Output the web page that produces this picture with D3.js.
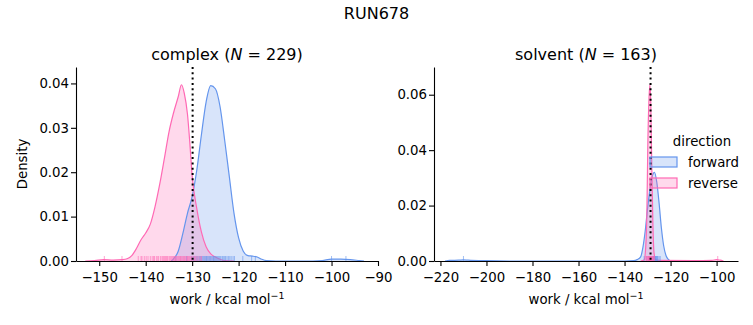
<!DOCTYPE html>
<html>
<head>
<meta charset="utf-8">
<script src="https://cdn.jsdelivr.net/npm/d3@7"></script>
<style>
  body { margin: 0; background: #fff; }
  svg text { font-family: "DejaVu Sans", sans-serif; fill: #000; }
</style>
</head>
<body>
<svg id="chart" width="753" height="325"></svg>
<script>
// density curves: [work, density]
var complexForward = [[-134.5, 0], [-134, 0.0005], [-133, 0.0022], [-132, 0.0062], [-131, 0.0108], [-130, 0.0145],
  [-129, 0.0205], [-128, 0.0285], [-127, 0.0358], [-126, 0.0395], [-125, 0.0388], [-124, 0.0348], [-123, 0.0272],
  [-122, 0.019], [-121, 0.0108], [-120, 0.0052], [-119, 0.0022], [-118, 0.0012], [-117, 0.0011], [-116, 0.0009],
  [-115, 0.0004], [-114, 0.0001], [-112, 0], [-104, 0], [-102, 0.0001], [-100, 0.0004], [-98, 0.0004], [-96, 0.0003],
  [-94, 0.0001], [-93, 0]];
var complexReverse = [[-153, 0], [-151, 0.0001], [-149, 0.0003], [-147, 0.0002], [-145, 0.0003], [-144, 0.0005],
  [-143, 0.0012], [-142, 0.0028], [-141, 0.0048], [-140, 0.0063], [-139, 0.0083], [-138, 0.0122], [-137, 0.0172],
  [-136, 0.023], [-135, 0.029], [-134, 0.0334], [-133, 0.037], [-132.3, 0.0397], [-131.7, 0.0378], [-131, 0.033],
  [-130.5, 0.0266], [-130, 0.0192], [-129, 0.0118], [-128, 0.0065], [-127, 0.0032], [-126, 0.0016], [-125, 0.0009],
  [-124, 0.0004], [-123, 0.0001], [-121, 0]];
var solventForward = [[-218, 0], [-216, 0.0002], [-212, 0.0003], [-210, 0.0004], [-208, 0.0003], [-200, 0.0001],
  [-190, 0], [-140, 0], [-136, 0.0001], [-134.5, 0.0005], [-133, 0.0015], [-132, 0.005], [-131, 0.011], [-130, 0.019],
  [-129, 0.0255], [-128, 0.0305], [-127, 0.032], [-126, 0.0285], [-125, 0.021], [-124, 0.012], [-123, 0.0055],
  [-122, 0.002], [-121, 0.0006], [-120, 0.0001], [-118, 0]];
var solventReverse = [[-133, 0], [-131.5, 0.0004], [-130.8, 0.005], [-130.3, 0.017], [-129.9, 0.041], [-129.4, 0.058],
  [-129.0, 0.0636], [-128.6, 0.057], [-128.2, 0.036], [-127.7, 0.014], [-127.2, 0.003], [-126.5, 0.0005],
  [-125, 0.0002], [-110, 0.0001], [-102, 0.0002], [-100, 0.0005], [-98.5, 0.0003], [-97, 0]];

// rug values (work samples)
var complexForwardRug = [-133.5, -131.2, -130.1, -129.7, -129.4, -129.1, -128.8, -128.5, -128.3, -128.1, -127.9,
  -127.7, -127.5, -127.3, -127.1, -126.9, -126.8, -126.6, -126.4, -126.2, -126.1, -125.9, -125.7, -125.5, -125.4,
  -125.2, -125.0, -124.8, -124.6, -124.4, -124.2, -124.0, -123.8, -123.5, -123.3, -123.0, -122.8, -122.5, -122.2,
  -121.9, -121.6, -121.2, -120.9, -119.1, -117.2, -116.4, -100.0, -96.9];
var complexReverseRug = [-148.9, -145.1, -141.6, -141.0, -140.8, -140.3, -139.9, -139.5, -139.0, -138.6, -138.3,
  -138.1, -137.7, -137.4, -137.2, -136.8, -136.5, -136.3, -136.1, -135.9, -135.7, -135.5, -135.3, -135.0, -134.8,
  -134.6, -134.4, -134.2, -134.0, -133.8, -133.6, -133.5, -133.3, -133.1, -132.9, -132.7, -132.5, -132.4, -132.2,
  -132.0, -131.8, -131.7, -131.5, -131.3, -131.1, -131.0, -130.8, -130.6, -130.4, -130.2, -130.0, -129.8, -129.5,
  -129.3, -129.0, -128.7, -128.3, -128.0];
var solventForwardRug = [-210.0, -131.5, -130.4, -129.6, -129.0, -128.5, -128.0, -127.6, -127.4, -127.2, -127.0,
  -126.8, -126.6, -126.4, -126.2, -126.0, -125.7, -125.5, -125.0, -124.5];
var solventReverseRug = [-130.8, -130.5, -130.2, -130.0, -129.8, -129.6, -129.5, -129.3, -129.2, -129.1, -129.0,
  -128.9, -128.8, -128.6, -128.5, -128.3, -128.2, -128.0, -127.9, -127.7, -127.5, -127.3, -127.0, -99.5];

var panels = [
  { name: "complex", n: 229, fwd: complexForward, rev: complexReverse, fwdRug: complexForwardRug, revRug: complexReverseRug,
    xdom: [-155, -90], ydom: [0, 0.0437], xticks: [-150, -140, -130, -120, -110, -100, -90],
    yticks: [0, 0.01, 0.02, 0.03, 0.04], vline: -129.9, left: 76, right: 378, ylabel: true },
  { name: "solvent", n: 163, fwd: solventForward, rev: solventReverse, fwdRug: solventForwardRug, revRug: solventReverseRug,
    xdom: [-222.8, -90.7], ydom: [0, 0.07], xticks: [-220, -200, -180, -160, -140, -120, -100],
    yticks: [0, 0.02, 0.04, 0.06], vline: -128.7, left: 434, right: 738, ylabel: false }
];

var blue = "#6495ed", pink = "#ff69b4";
var plotTop = 67, plotBottom = 261;
var svg = d3.select("#chart");
var minus = function (s) { return s.replace("-", "\u2212"); };

svg.append("text").attr("x", 376.5).attr("y", 19).attr("text-anchor", "middle")
  .style("font-size", "16px").text("RUN678");

panels.forEach(function (p) {
  var x = d3.scaleLinear().domain(p.xdom).range([p.left, p.right]);
  var y = d3.scaleLinear().domain(p.ydom).range([plotBottom, plotTop]);
  var g = svg.append("g");

  var area = d3.area().x(function (d) { return x(d[0]); }).y0(y(0)).y1(function (d) { return y(d[1]); })
    .curve(d3.curveMonotoneX);
  var line = d3.line().x(function (d) { return x(d[0]); }).y(function (d) { return y(d[1]); })
    .curve(d3.curveMonotoneX);

  [[p.fwd, blue], [p.rev, pink]].forEach(function (s) {
    g.append("path").datum(s[0]).attr("d", area).attr("fill", s[1]).attr("fill-opacity", 0.25);
  });
  [[p.fwd, blue], [p.rev, pink]].forEach(function (s) {
    g.append("path").datum(s[0]).attr("d", line).attr("fill", "none").attr("stroke", s[1]).attr("stroke-width", 1.2);
  });

  // rug
  [[p.fwdRug, blue], [p.revRug, pink]].forEach(function (s) {
    g.selectAll(null).data(s[0]).enter().append("line")
      .attr("x1", function (d) { return x(d); }).attr("x2", function (d) { return x(d); })
      .attr("y1", plotBottom).attr("y2", plotBottom - 5)
      .attr("stroke", s[1]).attr("stroke-opacity", 0.6).attr("stroke-width", 1);
  });

  // dotted reference line
  g.append("line").attr("x1", x(p.vline)).attr("x2", x(p.vline)).attr("y1", plotTop).attr("y2", plotBottom)
    .attr("stroke", "#000").attr("stroke-width", 2).attr("stroke-dasharray", "2,3.3");

  // axes
  var xa = g.append("g").attr("transform", "translate(0," + plotBottom + ")")
    .call(d3.axisBottom(x).tickValues(p.xticks).tickSize(5).tickSizeOuter(0).tickFormat(function (d) { return minus(String(d)); }));
  var ya = g.append("g").attr("transform", "translate(" + p.left + ",0)")
    .call(d3.axisLeft(y).tickValues(p.yticks).tickSize(5).tickSizeOuter(0).tickFormat(d3.format(".2f")));
  [xa, ya].forEach(function (a) {
    a.select(".domain").attr("stroke", "#000").attr("stroke-width", 1.1);
    a.selectAll(".tick line").attr("stroke", "#000").attr("stroke-width", 1.1);
    a.selectAll(".tick text").style("font-size", "13.3px").style("font-family", "DejaVu Sans");
  });
  xa.selectAll(".tick text").attr("dy", "0.95em");
  ya.selectAll(".tick text").attr("x", -7);

  // title
  var t = svg.append("text").attr("x", (p.left + p.right) / 2).attr("y", 60).attr("text-anchor", "middle")
    .style("font-size", "16px");
  t.append("tspan").text(p.name + " (");
  t.append("tspan").style("font-style", "italic").text("N");
  t.append("tspan").text(" = " + p.n + ")");

  // x label
  var xl = svg.append("text").attr("x", (p.left + p.right) / 2).attr("y", 304).attr("text-anchor", "middle")
    .style("font-size", "13.3px");
  xl.append("tspan").text("work / kcal mol");
  xl.append("tspan").attr("dy", -5).style("font-size", "9.5px").text("\u22121");

  if (p.ylabel) {
    svg.append("text").attr("transform", "translate(27," + (plotTop + plotBottom) / 2 + ") rotate(-90)")
      .attr("text-anchor", "middle").style("font-size", "13.3px").text("Density");
  }
});

// legend
var lg = svg.append("g");
lg.append("text").attr("x", 702).attr("y", 146).attr("text-anchor", "middle").style("font-size", "13.3px").text("direction");
[["forward", blue], ["reverse", pink]].forEach(function (d, i) {
  var yy = 157 + i * 21;
  lg.append("rect").attr("x", 650).attr("y", yy).attr("width", 27).attr("height", 10)
    .attr("fill", d[1]).attr("fill-opacity", 0.25).attr("stroke", d[1]).attr("stroke-width", 1.2);
  lg.append("text").attr("x", 688).attr("y", yy + 9.5).style("font-size", "13.3px").text(d[0]);
});
</script>
</body>
</html>
